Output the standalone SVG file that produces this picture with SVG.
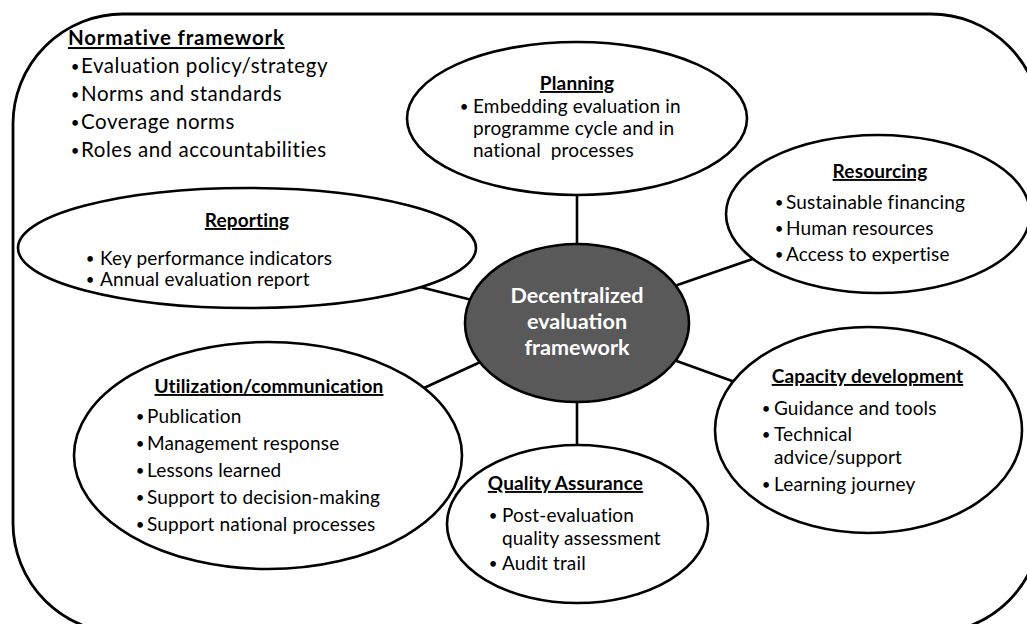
<svg xmlns="http://www.w3.org/2000/svg" width="1027" height="624" viewBox="0 0 1027 624">
  <style>
    .shape { fill: #ffffff; stroke: #000000; stroke-width: 2.6; }
    .hub { fill: #595959; stroke: #000000; stroke-width: 2.6; }
    .link { stroke: #000000; stroke-width: 2.6; fill: none; }
    .txt { font-family: Lato, "Liberation Sans", sans-serif; font-size: 19px; letter-spacing: 0.15px; fill: #000000; }
    .big { font-size: 20.5px; letter-spacing: 0.55px; }
    .ttl { font-weight: bold; text-decoration: underline; }
    .big.ttl { letter-spacing: 0.8px; }
    .mid { text-anchor: middle; }
    .dot { font-size: 15px; letter-spacing: 0; }
    .hubtxt { font-family: Lato, "Liberation Sans", sans-serif; font-size: 21.6px; font-weight: bold; fill: #ffffff; text-anchor: middle; }
  </style>

  <!-- outer framework boundary -->
  <rect id="frame" x="13" y="14" width="1028" height="619" rx="110" ry="110" fill="#ffffff" stroke="#000000" stroke-width="2.8"/>

  <!-- normative framework block -->
  <g id="normative">
    <text class="txt big ttl" x="68" y="45">Normative framework</text>
    <text class="txt big"><tspan class="mid dot" x="75" y="72">•</tspan><tspan x="81" y="73">Evaluation policy/strategy</tspan></text>
    <text class="txt big"><tspan class="mid dot" x="75" y="100">•</tspan><tspan x="81" y="101">Norms and standards</tspan></text>
    <text class="txt big"><tspan class="mid dot" x="75" y="128">•</tspan><tspan x="81" y="129">Coverage norms</tspan></text>
    <text class="txt big"><tspan class="mid dot" x="75" y="156">•</tspan><tspan x="81" y="157">Roles and accountabilities</tspan></text>
  </g>

  <!-- spokes from the hub to each component -->
  <g id="connectors">
    <line class="link" x1="577" y1="180" x2="577" y2="260"/>
    <line class="link" x1="660" y1="291" x2="790" y2="246"/>
    <line class="link" x1="500" y1="307" x2="380" y2="277"/>
    <line class="link" x1="500" y1="353" x2="400" y2="399"/>
    <line class="link" x1="660" y1="355" x2="760" y2="391"/>
    <line class="link" x1="577" y1="390" x2="577" y2="460"/>
  </g>

  <g id="planning">
    <ellipse class="shape" cx="577" cy="118.5" rx="170" ry="76.5"/>
    <text class="txt ttl mid" x="577" y="90">Planning</text>
    <text class="txt"><tspan class="mid dot" x="464" y="112">•</tspan><tspan x="473" y="113">Embedding evaluation in</tspan></text>
    <text class="txt" x="473" y="135">programme cycle and in</text>
    <text class="txt" x="473" y="157" style="white-space:pre">national  processes</text>
  </g>

  <g id="resourcing">
    <ellipse class="shape" cx="878" cy="214" rx="152" ry="79"/>
    <text class="txt ttl mid" x="880" y="178">Resourcing</text>
    <text class="txt"><tspan class="mid dot" x="779" y="208">•</tspan><tspan x="786" y="209">Sustainable financing</tspan></text>
    <text class="txt"><tspan class="mid dot" x="779" y="234">•</tspan><tspan x="786" y="235">Human resources</tspan></text>
    <text class="txt"><tspan class="mid dot" x="779" y="260">•</tspan><tspan x="786" y="261">Access to expertise</tspan></text>
  </g>

  <g id="reporting">
    <ellipse class="shape" cx="247" cy="248" rx="229" ry="60"/>
    <text class="txt ttl mid" x="247" y="227">Reporting</text>
    <text class="txt"><tspan class="mid dot" x="90" y="264">•</tspan><tspan x="100" y="265">Key performance indicators</tspan></text>
    <text class="txt"><tspan class="mid dot" x="90" y="285">•</tspan><tspan x="100" y="286">Annual evaluation report</tspan></text>
  </g>

  <g id="hub">
    <ellipse class="hub" cx="577" cy="323" rx="112" ry="79"/>
    <text class="hubtxt" x="577" y="303">Decentralized</text>
    <text class="hubtxt" x="577" y="329">evaluation</text>
    <text class="hubtxt" x="577" y="355">framework</text>
  </g>

  <g id="utilization">
    <ellipse class="shape" cx="268" cy="455.5" rx="194" ry="113.5"/>
    <text class="txt ttl mid" x="269" y="393">Utilization/communication</text>
    <text class="txt"><tspan class="mid dot" x="140" y="422">•</tspan><tspan x="147" y="423">Publication</tspan></text>
    <text class="txt"><tspan class="mid dot" x="140" y="449">•</tspan><tspan x="147" y="450">Management response</tspan></text>
    <text class="txt"><tspan class="mid dot" x="140" y="476">•</tspan><tspan x="147" y="477">Lessons learned</tspan></text>
    <text class="txt"><tspan class="mid dot" x="140" y="503">•</tspan><tspan x="147" y="504">Support to decision-making</tspan></text>
    <text class="txt"><tspan class="mid dot" x="140" y="530">•</tspan><tspan x="147" y="531">Support national processes</tspan></text>
  </g>

  <g id="quality">
    <ellipse class="shape" cx="577.5" cy="524" rx="130.5" ry="79"/>
    <text class="txt ttl mid" x="565.5" y="490">Quality Assurance</text>
    <text class="txt"><tspan class="mid dot" x="493" y="521">•</tspan><tspan x="502" y="522">Post-evaluation</tspan></text>
    <text class="txt" x="502" y="545">quality assessment</text>
    <text class="txt"><tspan class="mid dot" x="493" y="569">•</tspan><tspan x="502" y="570">Audit trail</tspan></text>
  </g>

  <g id="capacity">
    <ellipse class="shape" cx="868.5" cy="430" rx="153.5" ry="103"/>
    <text class="txt ttl mid" x="867.5" y="383">Capacity development</text>
    <text class="txt"><tspan class="mid dot" x="766" y="414">•</tspan><tspan x="774" y="415">Guidance and tools</tspan></text>
    <text class="txt"><tspan class="mid dot" x="766" y="440">•</tspan><tspan x="774" y="441">Technical</tspan></text>
    <text class="txt" x="774" y="464">advice/support</text>
    <text class="txt"><tspan class="mid dot" x="766" y="490">•</tspan><tspan x="774" y="491">Learning journey</tspan></text>
  </g>
</svg>
